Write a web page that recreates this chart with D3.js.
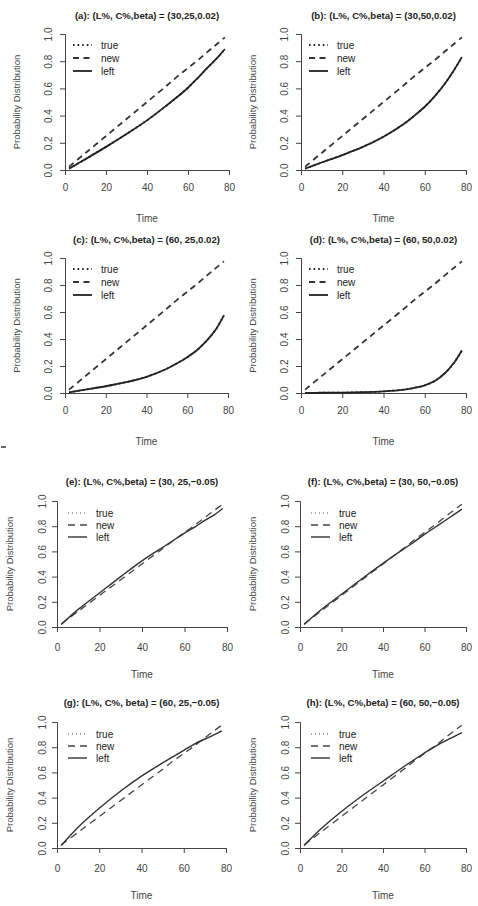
<!DOCTYPE html>
<html>
<head>
<meta charset="utf-8">
<script src="https://cdn.jsdelivr.net/npm/d3@7/dist/d3.min.js"></script>
<style>
body { margin: 0; background: #fff; }
text { font-family: "Liberation Sans", Arial, sans-serif; }
</style>
</head>
<body>
<svg id="chart"></svg>
<script>
// select the svg element
var svg = d3.select("#chart");
svg.attr("width", 478);
svg.attr("height", 906);

// data
var titles = [
  "(a):  (L%, C%,beta) = (30,25,0.02)",
  "(b):  (L%, C%,beta) = (30,50,0.02)",
  "(c):  (L%, C%,beta) = (60, 25,0.02)",
  "(d):  (L%, C%,beta) = (60, 50,0.02)",
  "(e):  (L%, C%,beta) = (30, 25,\u22120.05)",
  "(f):  (L%, C%,beta) = (30, 50,\u22120.05)",
  "(g):  (L%, C%, beta) = (60, 25,\u22120.05)",
  "(h):  (L%, C%,beta) = (60, 50,\u22120.05)"
];

var time = [2, 10, 20, 30, 40, 50, 55, 60, 65, 70, 74, 78];

var newProb = [0.025, 0.125, 0.25, 0.375, 0.5, 0.625, 0.69, 0.75, 0.81, 0.875, 0.925, 0.975];

var leftA = [0.01, 0.08, 0.17, 0.265, 0.365, 0.48, 0.54, 0.605, 0.68, 0.76, 0.82, 0.89];
var leftB = [0.01, 0.055, 0.11, 0.17, 0.245, 0.34, 0.40, 0.465, 0.545, 0.64, 0.73, 0.83];
var leftC = [0.005, 0.025, 0.05, 0.08, 0.12, 0.18, 0.22, 0.265, 0.32, 0.395, 0.47, 0.575];
var leftD = [0.001, 0.002, 0.003, 0.006, 0.012, 0.025, 0.038, 0.057, 0.09, 0.15, 0.22, 0.315];
var leftE = [0.02, 0.14, 0.27, 0.40, 0.525, 0.635, 0.69, 0.745, 0.795, 0.85, 0.89, 0.94];
var leftF = [0.02, 0.135, 0.26, 0.385, 0.505, 0.62, 0.675, 0.735, 0.79, 0.845, 0.89, 0.935];
var leftG = [0.02, 0.165, 0.315, 0.45, 0.57, 0.675, 0.725, 0.775, 0.825, 0.865, 0.895, 0.93];
var leftH = [0.02, 0.15, 0.29, 0.415, 0.53, 0.645, 0.70, 0.755, 0.805, 0.85, 0.882, 0.915];

// the "true" curve is not visible apart from the legend: it runs under "left"
var trueA = leftA, trueB = leftB, trueC = leftC, trueD = leftD;
var trueE = leftE, trueF = leftF, trueG = leftG, trueH = leftH;

var xTicks = [0, 20, 40, 60, 80];
var yTicks = [0, 0.2, 0.4, 0.6, 0.8, 1.0];
var legendLabels = ["true", "new", "left"];

// panel boxes (pixels)
var panels = [
  { truth: trueA, left: leftA, x0: 65,  x1: 229, y0: 170, y1: 34,  top: true },
  { truth: trueB, left: leftB, x0: 301, x1: 466, y0: 170, y1: 34,  top: true },
  { truth: trueC, left: leftC, x0: 65,  x1: 228, y0: 393, y1: 258, top: true },
  { truth: trueD, left: leftD, x0: 301, x1: 466, y0: 393, y1: 258, top: true },
  { truth: trueE, left: leftE, x0: 57,  x1: 227, y0: 627, y1: 501, top: false },
  { truth: trueF, left: leftF, x0: 300, x1: 466, y0: 627, y1: 501, top: false },
  { truth: trueG, left: leftG, x0: 57,  x1: 226, y0: 848, y1: 722, top: false },
  { truth: trueH, left: leftH, x0: 300, x1: 466, y0: 848, y1: 722, top: false }
];

for (var p = 0; p < panels.length; p += 1) {
  var pn = panels[p];
  var g = svg.append("g");

  var x = d3.scaleLinear().domain([0, 80]).range([pn.x0, pn.x1]);
  var y = d3.scaleLinear().domain([0, 1]).range([pn.y0, pn.y1]);

  // offsets for labels
  var xTickOff = pn.top ? 17 : 20;
  var yTickOff = pn.top ? 17 : 15;
  var labOff = pn.top ? 48 : 47;

  // axes
  var xAxis = g.append("g").attr("transform", "translate(0," + pn.y0 + ")")
    .call(d3.axisBottom(x).tickValues(xTicks).tickSize(5).tickFormat(d3.format("d")));
  var yAxis = g.append("g").attr("transform", "translate(" + pn.x0 + ",0)")
    .call(d3.axisLeft(y).tickValues(yTicks).tickSize(5).tickFormat(d3.format(".1f")));

  [xAxis, yAxis].forEach(function (ax) {
    ax.select(".domain").attr("stroke", "#444").attr("stroke-width", 1);
    ax.selectAll(".tick line").attr("stroke", "#444").attr("stroke-width", 1);
    ax.selectAll(".tick text").attr("fill", "#444").attr("font-size", "10px")
      .attr("font-family", "Liberation Sans, Arial, sans-serif");
  });
  xAxis.selectAll(".tick text").attr("y", xTickOff).attr("dy", "0.35em");
  yAxis.selectAll(".tick text")
    .attr("x", 0).attr("dy", "0.35em")
    .attr("text-anchor", "middle")
    .attr("transform", "translate(" + (-yTickOff) + ",0) rotate(-90)");

  // title
  g.append("text")
    .attr("x", (pn.x0 + pn.x1) / 2)
    .attr("y", pn.y1 - (pn.top ? 18 : 19))
    .attr("text-anchor", "middle")
    .attr("dy", "0.35em")
    .attr("font-size", "9.6px")
    .attr("font-weight", "bold")
    .attr("fill", "#222")
    .text(titles[p]);

  // axis labels
  g.append("text")
    .attr("x", (pn.x0 + pn.x1) / 2)
    .attr("y", pn.y0 + labOff)
    .attr("dy", "0.35em")
    .attr("text-anchor", "middle")
    .attr("font-size", "10px")
    .attr("fill", "#444")
    .text("Time");

  g.append("text")
    .attr("transform", "translate(" + (pn.x0 - labOff) + "," + ((pn.y0 + pn.y1) / 2) + ") rotate(-90)")
    .attr("dy", "0.35em")
    .attr("text-anchor", "middle")
    .attr("font-size", "9.5px")
    .attr("fill", "#444")
    .text("Probability Distribution");

  // lines
  var series = [pn.truth, newProb, pn.left];
  var dashes = pn.top ? ["1.6,3", "6,4.5", null] : ["1,3", "7,5", null];
  var widths = pn.top ? [1.8, 1.8, 1.8] : [1, 1.3, 1.4];
  var colors = pn.top ? ["#222", "#333", "#222"] : ["#555", "#444", "#333"];

  var line = d3.line()
    .x(function (d, i) { return x(time[i]); })
    .y(function (d) { return y(d); })
    .curve(d3.curveCatmullRom.alpha(0.5));

  for (var s = 0; s < series.length; s += 1) {
    var path = g.append("path");
    path.attr("d", line(series[s]));
    path.attr("fill", "none");
    path.attr("stroke", colors[s]);
    path.attr("stroke-width", widths[s]);
    if (dashes[s]) path.attr("stroke-dasharray", dashes[s]);
  }

  // legend
  var lx0 = pn.x0 + (pn.top ? 8 : 11);
  var lx1 = lx0 + 19;
  var rowOff = pn.top ? [11, 24, 37] : [12, 24, 36];
  for (var k = 0; k < legendLabels.length; k += 1) {
    var ly = pn.y1 + rowOff[k];
    var seg = g.append("path");
    seg.attr("d", d3.line()([[lx0, ly], [lx1, ly]]));
    seg.attr("stroke", colors[k]);
    seg.attr("stroke-width", widths[k]);
    seg.attr("fill", "none");
    if (dashes[k]) seg.attr("stroke-dasharray", dashes[k]);

    g.append("text")
      .attr("x", lx1 + 9)
      .attr("y", ly)
      .attr("dy", "0.35em")
      .attr("font-size", "10px")
      .attr("fill", "#222")
      .text(legendLabels[k]);
  }
}

// small stray mark on the left margin
svg.append("path")
  .attr("d", d3.line()([[1, 447], [6, 447]]))
  .attr("stroke", "#333")
  .attr("stroke-width", 1.5);
</script>
</body>
</html>
